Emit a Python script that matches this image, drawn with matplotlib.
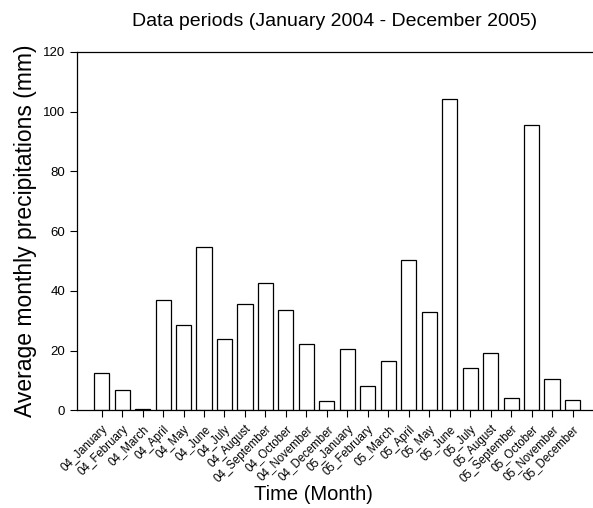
import numpy as np
import matplotlib
matplotlib.use("Agg")
import matplotlib.pyplot as plt

plt.rcParams['font.family'] = ['Liberation Sans', 'DejaVu Sans']

# monthly precipitation (mm), Jan 2004 - Dec 2005
months = ['January', 'February', 'March', 'April', 'May', 'June', 'July',
          'August', 'September', 'October', 'November', 'December']
labels = ['04_' + m for m in months] + ['05_' + m for m in months]
precip = [12.7, 6.9, 0.5, 37.0, 28.7, 54.6, 23.8, 35.6, 42.6, 33.7, 22.3, 3.2,
          20.6, 8.1, 16.5, 50.5, 33.0, 104.2, 14.3, 19.1, 4.2, 95.5, 10.6, 3.6]

fig = plt.figure(figsize=(5.93, 5.08), dpi=100)
ax = fig.add_axes([0.130, 0.192, 0.870, 0.706])

x = np.arange(len(labels))
ax.bar(x, precip, width=0.74, color='white', edgecolor='black', linewidth=0.9)

ax.set_xlim(-1.2, 24)
ax.set_ylim(0, 120)
ax.set_yticks(np.arange(0, 121, 20))
ax.set_xticks(x)
ax.set_xticklabels(labels, rotation=45, ha='right', rotation_mode='anchor',
                   fontsize=8.3)
ax.tick_params(axis='y', labelsize=9.5, length=5, width=0.8, direction='out')
ax.tick_params(axis='x', length=5, width=0.8, direction='out', pad=4)

for side in ['left', 'bottom', 'top']:
    ax.spines[side].set_linewidth(0.9)
ax.spines['right'].set_visible(False)

ax.set_ylabel('Average monthly precipitations (mm)', fontsize=16.5, labelpad=4)
fig.text(0.528, 0.015, 'Time (Month)', fontsize=14.5, ha='center', va='baseline')
fig.text(0.565, 0.957, 'Data periods (January 2004 - December 2005)',
         fontsize=14, ha='center', va='center')

fig.savefig('out.png', dpi=100)
